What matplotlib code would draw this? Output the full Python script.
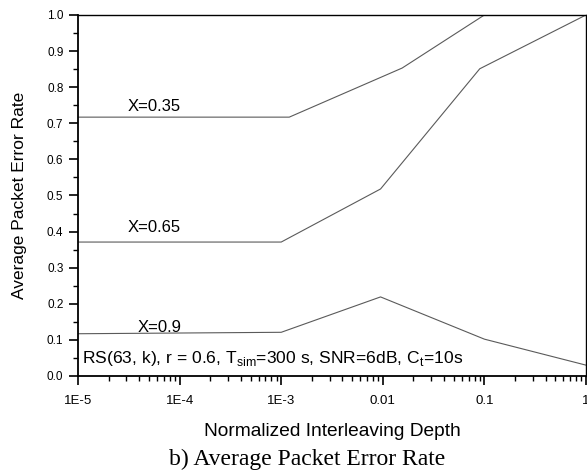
import matplotlib
matplotlib.use("Agg")
import matplotlib.pyplot as plt
from matplotlib.ticker import LogLocator, FixedLocator, MultipleLocator, NullFormatter

plt.rcParams['font.family'] = ['Liberation Sans', 'DejaVu Sans']

# interleaving depth points and error rate for each X
depth_035 = [1e-5, 1.2e-3, 0.0155, 0.1, 1.0]
per_035 = [0.717, 0.717, 0.853, 1.0, 1.0]

depth_065 = [1e-5, 1e-3, 0.0095, 0.09, 1.0]
per_065 = [0.371, 0.371, 0.518, 0.851, 1.0]

depth_09 = [1e-5, 1e-3, 0.0095, 0.1, 1.0]
per_09 = [0.117, 0.121, 0.219, 0.102, 0.03]

xtick_vals = [1e-5, 1e-4, 1e-3, 1e-2, 1e-1, 1]
xtick_labels = ['1E-5', '1E-4', '1E-3', '0.01', '0.1', '1']
ytick_vals = [i / 10 for i in range(11)]

fig = plt.figure(figsize=(5.87, 4.74), dpi=100)
ax = fig.add_axes([0.1329, 0.2068, 0.8654, 0.7616])

lc = '#5a5a5a'
ax.plot(depth_035, per_035, color=lc, lw=0.8)
ax.plot(depth_065, per_065, color=lc, lw=0.8)
ax.plot(depth_09, per_09, color=lc, lw=0.8)

ax.set_xscale('log')
ax.set_xlim(1e-5, 1)
ax.set_ylim(0, 1.0)

ax.xaxis.set_major_locator(FixedLocator(xtick_vals))
ax.set_xticklabels(xtick_labels)
ax.xaxis.set_minor_locator(LogLocator(base=10, subs=range(2, 10)))
ax.xaxis.set_minor_formatter(NullFormatter())
ax.set_yticks(ytick_vals)
ax.set_yticklabels(['%.1f' % v for v in ytick_vals])
ax.yaxis.set_minor_locator(MultipleLocator(0.05))

ax.tick_params(which='major', direction='out', length=6.5, width=1.2, colors='black')
ax.tick_params(which='minor', direction='out', length=3.5, width=1.0)
ax.tick_params(axis='y', labelsize=8.5, pad=4)
ax.tick_params(axis='x', labelsize=9.5, pad=7)

for s in ['left', 'bottom']:
    ax.spines[s].set_linewidth(1.3)
for s in ['top', 'right']:
    ax.spines[s].set_linewidth(1.0)

ax.text(3.1e-5, 0.734, 'X=0.35', fontsize=12)
ax.text(3.1e-5, 0.40, 'X=0.65', fontsize=12)
ax.text(3.9e-5, 0.122, 'X=0.9', fontsize=12)
ax.text(1.1e-5, 0.036, r'RS(63, k), r = 0.6, T$_{\mathregular{sim}}$=300 s, SNR=6dB, C$_{\mathregular{t}}$=10s',
        fontsize=12.6)

ax.set_xlabel('Normalized Interleaving Depth', fontsize=13.8, labelpad=12)
ax.set_ylabel('Average Packet Error Rate', fontsize=12.5, labelpad=14)

fig.text(0.523, 0.019, 'b) Average Packet Error Rate', ha='center', va='baseline', fontsize=17,
         family=['Liberation Serif', 'DejaVu Serif'])

fig.savefig('out.png', dpi=100)
